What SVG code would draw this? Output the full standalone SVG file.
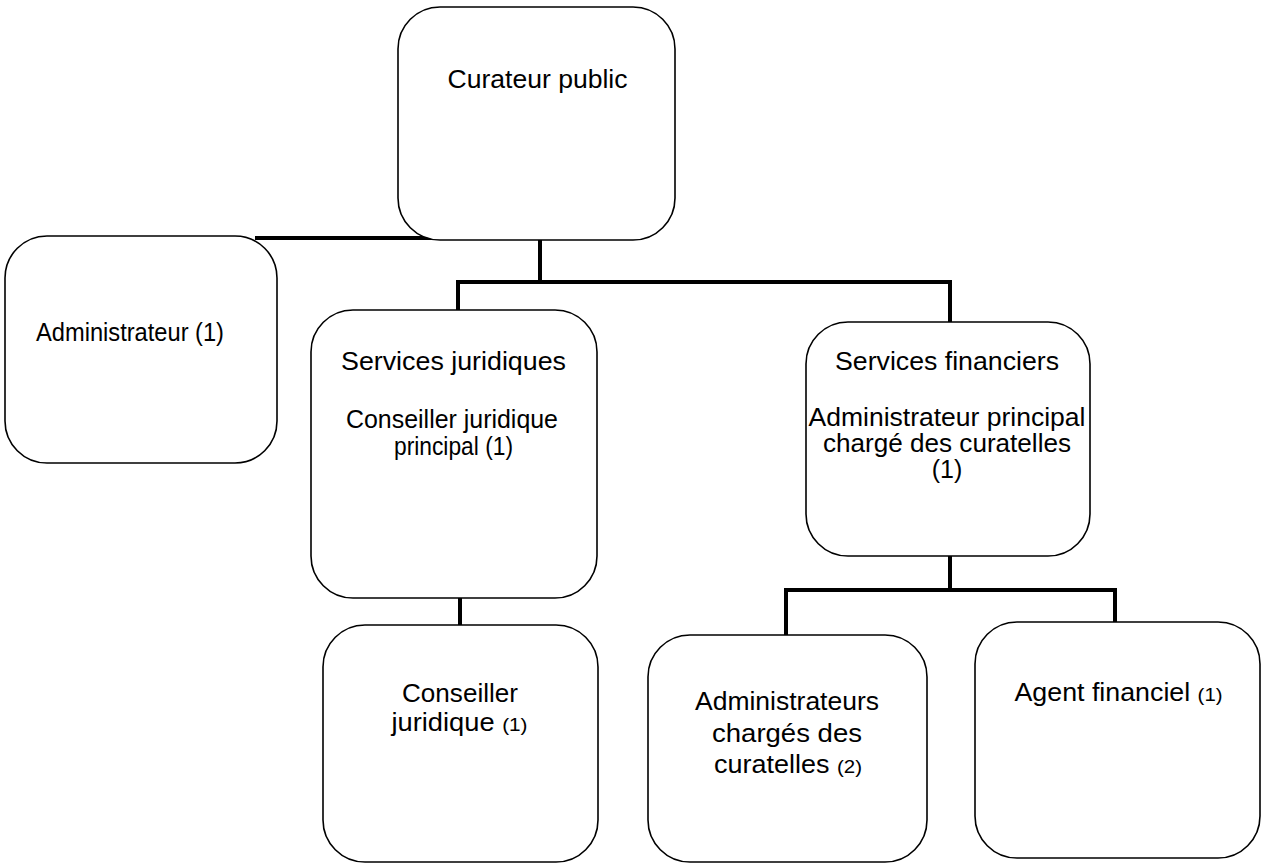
<svg xmlns="http://www.w3.org/2000/svg" width="1262" height="867" viewBox="0 0 1262 867">
<style>
.box{fill:#fff;stroke:#000;stroke-width:1.6}
.t{font-family:"Liberation Sans",Arial,sans-serif;font-size:25px;fill:#000}
.c{text-anchor:middle}
.s{font-size:19px}
.con{stroke:#000;stroke-width:4;fill:none;stroke-linecap:square}
</style>
<rect width="1262" height="867" fill="#fff"/>
<g id="connectors">
<path class="con" d="M257 238 H432"/>
<path class="con" d="M540 241 V282 M458 282 H950 M458 282 V310 M950 282 V322"/>
<path class="con" d="M460 598 V625"/>
<path class="con" d="M950 556 V590 M786 590 H1115 M786 590 V635 M1115 590 V622"/>
</g>
<g id="curateur">
<rect class="box" x="398" y="7" width="277" height="233" rx="42"/>
<text class="t c" x="537.5" y="88" textLength="180" lengthAdjust="spacingAndGlyphs">Curateur public</text>
</g>
<g id="administrateur">
<rect class="box" x="5" y="236" width="272" height="227" rx="42"/>
<text class="t" x="36" y="341" textLength="188" lengthAdjust="spacingAndGlyphs">Administrateur (1)</text>
</g>
<g id="services-juridiques">
<rect class="box" x="311" y="310" width="286" height="288" rx="42"/>
<text class="t c" x="453.5" y="370" textLength="225" lengthAdjust="spacingAndGlyphs">Services juridiques</text>
<text class="t c" x="452" y="428" textLength="212" lengthAdjust="spacingAndGlyphs">Conseiller juridique</text>
<text class="t c" x="453.5" y="455" textLength="119" lengthAdjust="spacingAndGlyphs">principal (1)</text>
</g>
<g id="conseiller-juridique">
<rect class="box" x="323" y="625" width="275" height="237" rx="42"/>
<text class="t c" x="460" y="702" textLength="116" lengthAdjust="spacingAndGlyphs">Conseiller</text>
<text class="t c" x="459.5" y="731" textLength="136" lengthAdjust="spacingAndGlyphs">juridique <tspan class="s">(1)</tspan></text>
</g>
<g id="services-financiers">
<rect class="box" x="806" y="322" width="284" height="234" rx="42"/>
<text class="t c" x="947" y="370" textLength="224" lengthAdjust="spacingAndGlyphs">Services financiers</text>
<text class="t c" x="947" y="426" textLength="277" lengthAdjust="spacingAndGlyphs">Administrateur principal</text>
<text class="t c" x="947" y="452" textLength="248" lengthAdjust="spacingAndGlyphs">chargé des curatelles</text>
<text class="t c" x="947" y="478">(1)</text>
</g>
<g id="administrateurs">
<rect class="box" x="648" y="635" width="279" height="227" rx="42"/>
<text class="t c" x="787" y="710" textLength="184" lengthAdjust="spacingAndGlyphs">Administrateurs</text>
<text class="t c" x="787" y="742" textLength="150" lengthAdjust="spacingAndGlyphs">chargés des</text>
<text class="t c" x="788" y="773" textLength="148" lengthAdjust="spacingAndGlyphs">curatelles <tspan class="s">(2)</tspan></text>
</g>
<g id="agent-financiel">
<rect class="box" x="975" y="622" width="285" height="236" rx="42"/>
<text class="t c" x="1118.5" y="701" textLength="208" lengthAdjust="spacingAndGlyphs">Agent financiel <tspan class="s">(1)</tspan></text>
</g>
</svg>
